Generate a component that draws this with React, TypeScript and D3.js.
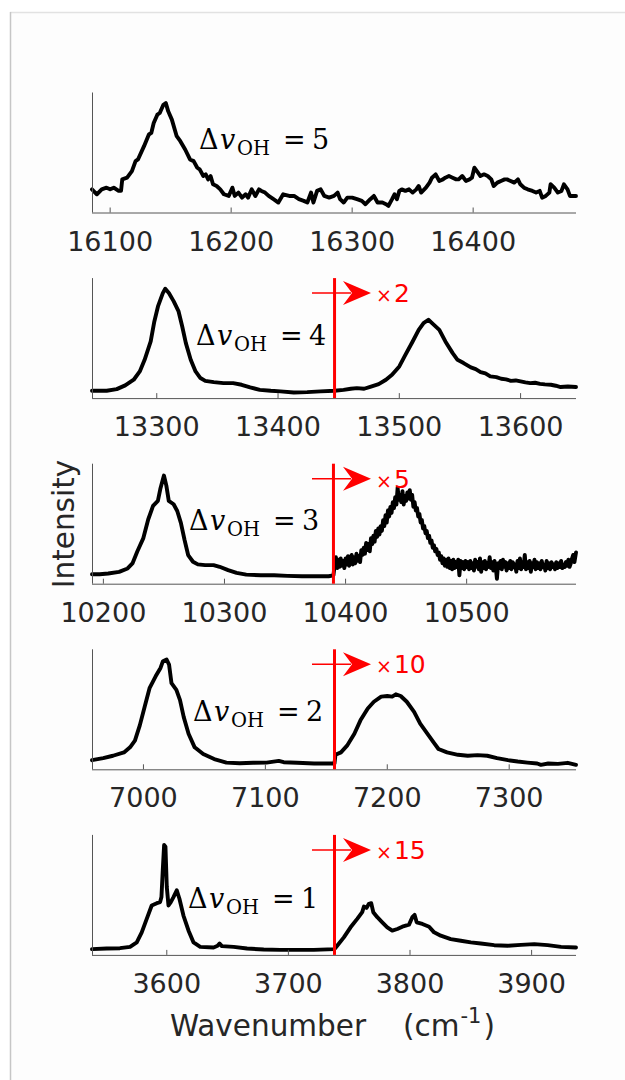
import React from 'react';
import * as d3 from 'd3';

// ---------- DATA ----------
// Spectra: [wavenumber (cm^-1), intensity (% of panel full scale)]
const dv5Spectrum: [number, number][] = [
  [16085,19.3],[16089,15.2],[16093,19.3],[16097,20.7],[16100,19.3],[16103,20.7],[16107,18.0],[16109,18.0],
  [16110,27.6],[16114,29.0],[16118,34.5],[16121,42.8],[16123,44.2],[16128,55.3],[16132,65.0],[16134,66.3],
  [16136,74.6],[16139,81.5],[16141,82.9],[16144,89.8],[16146,91.2],[16148,84.3],[16151,77.4],[16155,63.6],
  [16158,59.4],[16162,52.5],[16166,44.2],[16169,42.8],[16172,37.3],[16174,35.9],[16177,30.4],[16179,31.8],
  [16181,27.6],[16183,30.4],[16185,23.5],[16188,22.1],[16191,19.3],[16194,15.2],[16198,13.8],[16201,20.7],
  [16203,13.8],[16206,16.6],[16209,12.4],[16212,15.2],[16214,12.4],[16217,19.3],[16220,13.8],[16223,19.3],
  [16225,18.0],[16228,16.6],[16231,13.8],[16235,11.1],[16239,8.3],[16243,15.2],[16248,13.8],[16252,13.8],
  [16256,11.1],[16260,9.7],[16263,8.3],[16266,16.6],[16268,8.3],[16271,18.0],[16274,19.3],[16277,13.8],
  [16281,12.4],[16285,13.8],[16288,16.6],[16290,11.1],[16293,8.3],[16296,12.4],[16300,12.4],[16304,11.1],
  [16308,9.7],[16311,6.9],[16315,11.1],[16318,13.8],[16321,8.3],[16325,8.3],[16328,6.9],[16330,5.5],
  [16333,11.1],[16335,15.2],[16337,11.1],[16339,18.0],[16341,19.3],[16344,18.0],[16347,19.3],[16350,16.6],
  [16353,19.3],[16355,22.1],[16357,16.6],[16361,20.7],[16364,24.9],[16366,29.0],[16369,31.8],[16372,26.3],
  [16375,27.6],[16377,29.0],[16380,30.4],[16383,29.0],[16386,27.6],[16388,27.6],[16391,30.4],[16394,26.3],
  [16397,27.6],[16399,29.0],[16401,37.3],[16404,33.2],[16406,30.4],[16409,31.8],[16412,30.4],[16415,27.6],
  [16417,22.1],[16420,24.9],[16423,26.3],[16426,27.6],[16428,27.6],[16431,26.3],[16434,24.9],[16437,27.6],
  [16439,23.5],[16442,20.7],[16445,19.3],[16449,18.0],[16452,16.6],[16455,18.0],[16457,12.4],[16460,13.8],
  [16463,16.6],[16464,23.5],[16467,20.7],[16470,16.6],[16473,18.0],[16475,23.5],[16478,19.3],[16480,13.8],
  [16485,13.8],
];

const dv4Spectrum: [number, number][] = [
  [13246.6,6.1],[13258.7,6.1],[13267,7.5],[13274,10.6],[13281,15.3],[13286,22.2],[13290,31.9],[13295,47.2],
  [13298,63.9],[13301,76.4],[13305,87.5],[13307,91.1],[13310,87.5],[13314,80.6],[13318,72.2],[13321,59.7],
  [13324,45.8],[13328,31.9],[13332,22.2],[13336,16.7],[13340,14.4],[13347,13.3],[13355,12.5],[13363,12.5],
  [13370,11.1],[13377,8.9],[13385,6.9],[13394,6.1],[13402,5.6],[13413,4.7],[13424,5.0],[13435,5.6],
  [13446.6,6.1],[13454,6.9],[13460,7.8],[13465,8.3],[13471,7.8],[13476,9.4],[13483,11.7],[13489,15.3],
  [13494,19.4],[13500,26.4],[13505,36.1],[13511,47.2],[13516,56.9],[13520,62.5],[13524,65.3],[13527,62.5],
  [13533,56.9],[13538,47.2],[13544,37.5],[13548,31.9],[13553,29.2],[13559,25.6],[13563,24.2],[13567,21.7],
  [13571,20.6],[13575,18.1],[13580,17.5],[13584,16.1],[13588,15.6],[13592,14.4],[13596,14.7],[13600,13.9],
  [13604,13.1],[13608,12.5],[13612,12.8],[13616,11.9],[13620,11.4],[13625,11.1],[13629,10.3],[13633,9.2],
  [13639,9.7],[13645.7,9.2],
];

const dv3Spectrum: [number, number][] = [
  [10190.6,7.9],[10197,7.9],[10204,8.5],[10213,9.9],[10220,12.7],[10224,16.9],[10228,26.8],[10233,38.0],
  [10237,53.5],[10241,64.8],[10245,69.0],[10247,78.9],[10250,90.1],[10252,81.7],[10254,69.0],[10258,66.2],
  [10261,60.6],[10264,50.7],[10267,36.6],[10270,23.9],[10274,18.3],[10278,16.1],[10284,15.5],[10291,15.5],
  [10296,14.1],[10303,11.3],[10310,9.0],[10318,7.6],[10330,7.0],[10341,7.0],[10352,6.5],[10364,6.2],
  [10375,6.2],[10386,6.2],[10390,7.0],
  [10391,15.5],[10392,22],[10393,13],[10394,20],[10395,14],[10396,21],[10397,15],[10398,19],[10399,13],
  [10400,21],[10401,16],[10402,23],[10403,15],[10404,20],[10405,24],[10406,16],[10407,22],[10408,17],
  [10409,25],[10410,19],[10411,23],[10412,18],[10413,28],[10414,24],[10415,30],[10416,25],[10417,34],
  [10418,28],[10419,33],[10420,27],[10421,38],[10422,33],[10423,40],[10424,35],[10425,44],[10426,39],
  [10427,46],[10428,41],[10429,48],[10430,44],[10431,53],[10432,48],[10433,57],[10434,51],[10435,61],
  [10436,56],[10437,64],[10438,59],[10439,68],[10440,63],[10441,72],[10442,66],[10443,80],[10444,70],
  [10445,74],[10446,68],[10447,77],[10448,66],[10449,73],[10450,69],[10451,76],[10452,71],[10453,78],
  [10454,70],[10455,74],[10456,64],[10457,68],[10458,61],[10459,63],[10460,56],[10461,58],[10462,51],
  [10463,53],[10464,46],[10465,48],[10466,42],[10467,44],[10468,38],[10469,40],[10470,34],[10471,36],
  [10472,30],[10473,32],[10474,27],[10475,29],[10476,24],[10477,26],[10478,20],[10479,23],[10480,17],
  [10481,21],[10482,15],[10483,20],[10484,14],[10485,21],[10486,13],[10487,19],[10488,12],[10489,20],
  [10490,13],[10491,18],[10492,14],[10493,20],[10494,7],[10495,19],[10496,13],[10497,18],[10498,12],
  [10499,19],[10500,14],[10501,18],[10502,12],[10503,19],[10504,13],[10505,17],[10506,11],[10507,20],
  [10508,14],[10509,18],[10510,12],[10511,21],[10512,10],[10513,18],[10514,13],[10515,19],[10516,12],
  [10517,17],[10518,14],[10519,22],[10520,13],[10521,18],[10522,11],[10523,19],[10524,14],[10525,4],
  [10526,17],[10527,13],[10528,19],[10529,12],[10530,20],[10531,14],[10532,18],[10533,11],[10534,17],
  [10535,13],[10536,19],[10537,12],[10538,18],[10539,14],[10540,16],[10541,10],[10542,19],[10543,13],
  [10544,21],[10545,12],[10546,18],[10547,14],[10548,24],[10549,12],[10550,18],[10551,13],[10552,19],
  [10553,10],[10554,17],[10555,14],[10556,20],[10557,12],[10558,18],[10559,13],[10560,17],[10561,12],
  [10562,19],[10563,14],[10564,16],[10565,11],[10566,19],[10567,13],[10568,17],[10569,12],[10570,18],
  [10571,14],[10572,16],[10573,12],[10574,18],[10575,13],[10576,17],[10577,14],[10578,19],[10579,13],
  [10580,16],[10581,14],[10582,18],[10583,15],[10584,20],[10585,14],[10586,17],[10587,21],[10588,24],
  [10589,18],[10590.3,26],
];

const dv2Spectrum: [number, number][] = [
  [6957.8,7.6],[6967,9.3],[6975,11.3],[6984,14.1],[6989,18.3],[6993,23.9],[6997,36.6],[7001,52.1],
  [7005,67.6],[7010,77.5],[7014,84.5],[7016,90.1],[7019,91.5],[7021,87.3],[7023,71.8],[7027,66.2],
  [7030,57.7],[7033,43.7],[7037,29.6],[7042,18.3],[7049,12.7],[7058,8.5],[7068,5.6],[7079,5.1],
  [7090,5.4],[7101,5.6],[7111,7.0],[7115,5.9],[7126,5.4],[7140,4.8],[7156.7,4.8],
  [7157.5,12.1],[7162,14.1],[7167,19.7],[7173,29.6],[7178,40.8],[7184,50.7],[7189,56.3],[7195,60.6],
  [7200,61.1],[7204,60.6],[7207,62.5],[7211,61.1],[7216,56.3],[7222,47.9],[7227,38.0],[7233,29.6],
  [7238,22.5],[7242,16.9],[7249,14.1],[7258,12.1],[7266,11.3],[7274,11.8],[7282,11.3],[7290,9.3],
  [7299,7.6],[7307,6.5],[7315,5.6],[7323,4.8],[7326,3.7],[7332,4.8],[7340,4.5],[7348,5.4],[7354.8,3.7],
];

const dv1Spectrum: [number, number][] = [
  [3538.5,4.8],[3550.5,5.3],[3561.5,5.6],[3569.8,6.7],[3575.3,10.4],[3579.4,18.8],[3583.5,30.0],[3587.6,41.2],
  [3591.8,43.1],[3594.5,44.0],[3595.6,48.2],[3596.7,70.6],[3597.8,91.6],[3598.9,90.2],[3600,56.6],[3601.4,41.2],
  [3603.3,44.0],[3605.5,48.2],[3608.2,53.8],[3610.4,46.8],[3613.7,32.8],[3617.9,20.2],[3622,10.4],[3627.5,6.7],
  [3638.5,6.2],[3641.8,7.6],[3643.4,9.5],[3645.3,7.3],[3655,6.7],[3666,5.3],[3679.7,4.5],[3693.4,4.2],
  [3707.1,4.2],[3720.9,4.2],[3737.9,4.8],
  [3740.1,7.6],[3745.6,14.6],[3751.1,23.0],[3756.6,30.0],[3760.7,35.6],[3762.1,40.3],[3764.3,39.2],[3766.2,42.6],
  [3768.1,43.1],[3769.8,35.6],[3773.1,31.4],[3777.2,27.2],[3781.3,23.0],[3785.4,20.2],[3789.6,21.6],[3793.7,23.5],
  [3799.2,25.2],[3801.9,31.4],[3803.8,33.3],[3805.5,27.2],[3810.2,25.8],[3815.7,23.5],[3819.8,18.8],[3825.3,16.0],
  [3833.5,13.2],[3841.8,11.8],[3850,10.4],[3858.2,9.5],[3869.2,8.1],[3880.2,7.6],[3891.2,8.4],[3902.2,9.0],
  [3913.2,8.1],[3924.2,6.7],[3936.5,6.2],
];

const dvLevels = [5, 4, 3, 2, 1];
const xDomains: [number, number][] = [
  [16085, 16485], [13246.6, 13645.7], [10190.6, 10590.3], [6957.8, 7354.8], [3538.5, 3936.5],
];
const xTicks = [
  [16100, 16200, 16300, 16400],
  [13300, 13400, 13500, 13600],
  [10200, 10300, 10400, 10500],
  [7000, 7100, 7200, 7300],
  [3600, 3700, 3800, 3900],
];
const breakPositions: (number | null)[] = [null, 13446.6, 10390, 7156.7, 3737.9];
const scaleFactors: (number | null)[] = [null, 2, 5, 10, 15];
const spectra = [dv5Spectrum, dv4Spectrum, dv3Spectrum, dv2Spectrum, dv1Spectrum];

// ---------- LAYOUT ----------
const W = 625, H = 1080;
const X0 = 92, X1 = 576;
const TOP0 = 92.5, STEP = 185.6, PH = 120;
const labelLayout: [number, number][] = [[199, 56.5], [196, 66.7], [189, 66], [193, 71.7], [188, 73.3]];

const AX = '#555';
const TXT = '#262626';

export default function App() {
  return (
    <svg width={W} height={H} style={{ position: 'absolute', left: 0, top: 0 }}
      xmlns="http://www.w3.org/2000/svg">
      <rect x={0} y={0} width={W} height={H} fill="#fff" />
      <rect x={10} y={12} width={W - 10} height={H - 12} fill="#fdfdfd" />
      <line x1={10} y1={12.5} x2={W} y2={12.5} stroke="#e2e2e2" strokeWidth={1.5} />
      <line x1={10.5} y1={12} x2={10.5} y2={H} stroke="#c6c6c6" strokeWidth={1.5} />
      {spectra.map((data, i) => {
        const top = TOP0 + i * STEP;
        const bottom = top + PH;
        const x = d3.scaleLinear().domain(xDomains[i]).range([X0, X1]);
        const y = d3.scaleLinear().domain([0, 100]).range([bottom, top]);
        const line = d3.line<[number, number]>().x(d => x(d[0])).y(d => y(d[1]));
        const [lx, lb] = labelLayout[i];
        const s = lx, b = top + lb;
        const bp = breakPositions[i];
        const f = scaleFactors[i];
        const ay = top + 15;
        const tip = 371;
        return (
          <g key={i}>
            <path d={line(data) || ''} fill="none" stroke="#000" strokeWidth={3.9}
              strokeLinejoin="round" strokeLinecap="round" />
            <line x1={X0 + 0.5} y1={top} x2={X0 + 0.5} y2={bottom} stroke={AX} strokeWidth={1} />
            <line x1={X0} y1={bottom + 0.5} x2={X1} y2={bottom + 0.5} stroke={AX} strokeWidth={1} />
            {xTicks[i].map(t => (
              <g key={t}>
                <line x1={x(t)} x2={x(t)} y1={bottom} y2={bottom - 5} stroke={AX} strokeWidth={1} />
                <text x={x(t)} y={bottom + 38} textAnchor="middle" fontFamily="DejaVu Sans"
                  fontSize={27} fill={TXT}>{t}</text>
              </g>
            ))}
            {bp !== null && (
              <g>
                <line x1={x(bp)} x2={x(bp)} y1={top} y2={bottom} stroke="#ff0000" strokeWidth={3} />
                <line x1={312} x2={tip - 20} y1={ay} y2={ay} stroke="#ff0000" strokeWidth={1.5} />
                <path d={`M${tip},${ay} L${tip - 28},${ay - 12} L${tip - 19},${ay} L${tip - 28},${ay + 12} Z`}
                  fill="#ff0000" />
                <text x={376} y={top + 24} fill="#ff0000" fontFamily="DejaVu Sans">
                  <tspan fontSize={19}>×</tspan>
                  <tspan fontSize={25} dx={2}>{f}</tspan>
                </text>
              </g>
            )}
            <text fontFamily="DejaVu Serif" fontSize={27} fill="#000">
              <tspan x={s} y={b}>Δ</tspan>
              <tspan x={s + 21} y={b} fontStyle="italic">v</tspan>
              <tspan x={s + 38} y={b + 6} fontSize={19.5}>OH</tspan>
              <tspan x={s + 84} y={b}>=</tspan>
              <tspan x={s + 113} y={b}>{dvLevels[i]}</tspan>
            </text>
          </g>
        );
      })}
      <text transform="translate(74,524) rotate(-90)" textAnchor="middle" fontFamily="DejaVu Sans"
        fontSize={29.5} fill={TXT}>Intensity</text>
      <text y={1036} fontFamily="DejaVu Sans" fontSize={29.5} fill={TXT}>
        <tspan x={170}>Wavenumber</tspan>
        <tspan x={403}>(cm</tspan>
        <tspan fontSize={21} dy={-13} dx={1}>-1</tspan>
        <tspan dy={13} dx={2}>)</tspan>
      </text>
    </svg>
  );
}
